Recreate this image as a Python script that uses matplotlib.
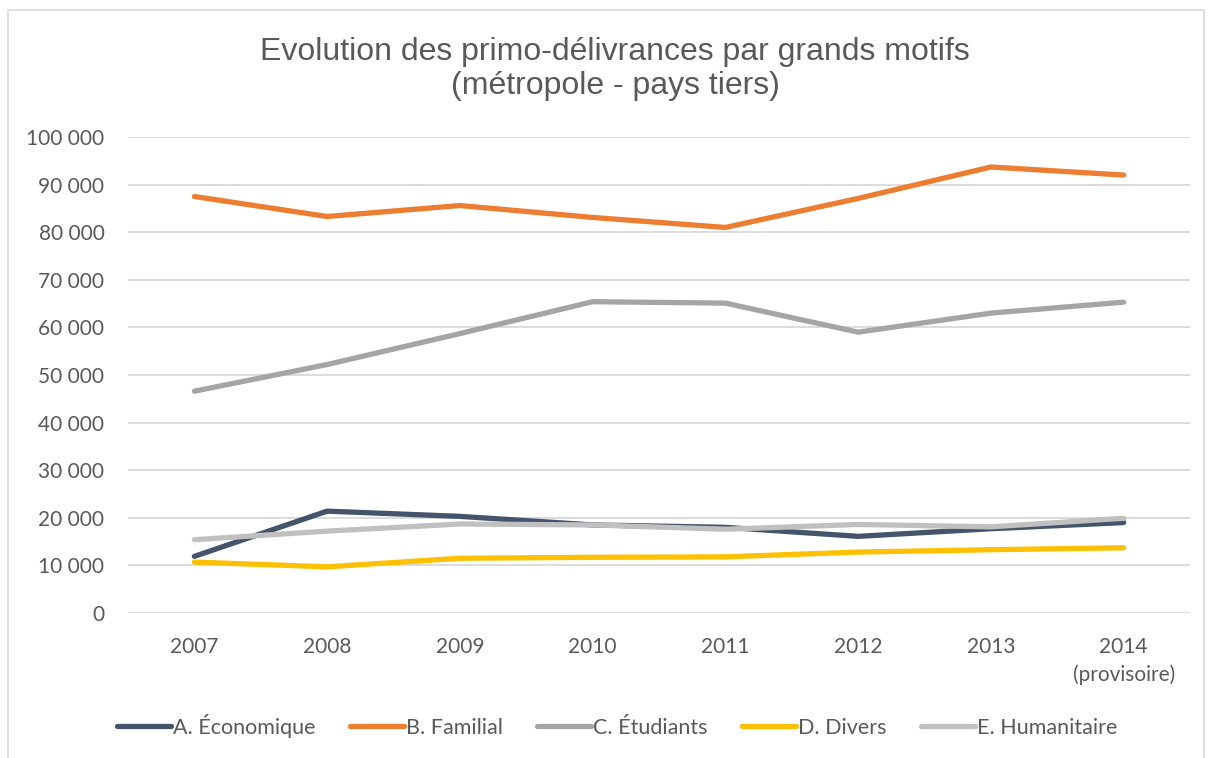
import matplotlib
matplotlib.use("Agg")
import matplotlib.pyplot as plt
from matplotlib.patches import Rectangle
from matplotlib.ticker import FuncFormatter

years = ["2007", "2008", "2009", "2010", "2011", "2012", "2013", "2014\n(provisoire)"]
series_names = ["A. Économique", "B. Familial", "C. Étudiants", "D. Divers", "E. Humanitaire"]
economique = [11900, 21400, 20300, 18500, 18000, 16100, 17700, 19000]
familial = [87500, 83300, 85600, 83100, 81000, 87100, 93700, 92000]
etudiants = [46600, 52200, 58700, 65400, 65100, 59000, 63000, 65300]
divers = [10700, 9700, 11500, 11700, 11800, 12800, 13300, 13700]
humanitaire = [15400, 17200, 18700, 18500, 17600, 18600, 18100, 19900]
yticks = [0, 10000, 20000, 30000, 40000, 50000, 60000, 70000, 80000, 90000, 100000]

colors = ["#44546A", "#ED7D31", "#A5A5A5", "#FFC000", "#C0C0C0"]
values = [economique, familial, etudiants, divers, humanitaire]

W, H = 1208, 758
fig = plt.figure(figsize=(W / 100, H / 100), dpi=100)
fig.patch.set_facecolor("white")

# chart frame
fig.patches.append(Rectangle((8 / W, -0.01), (1204 - 8) / W, 1 - 10 / H + 0.01,
                             transform=fig.transFigure, fill=False,
                             edgecolor="#D9D9D9", linewidth=1.2))

left, right, top, bottom = 128, 1190, 137, 613
ax = fig.add_axes([left / W, 1 - bottom / H, (right - left) / W, (bottom - top) / H])

x = list(range(len(years)))
for name, vals, c in zip(series_names, values, colors):
    ax.plot(x, vals, color=c, linewidth=3.8, label=name, solid_capstyle="round",
            solid_joinstyle="round")

ax.set_xlim(-0.5, len(years) - 0.5)
ax.set_ylim(0, 100000)
ax.set_yticks(yticks)
ax.yaxis.set_major_formatter(FuncFormatter(lambda v, p: f"{int(v):,}".replace(",", " ")))
ax.set_xticks(x)
ax.set_xticklabels(years, linespacing=1.45)
ax.grid(axis="y", color="#D9D9D9", linewidth=1.3)
ax.set_axisbelow(True)
for s in ax.spines.values():
    s.set_visible(False)
ax.tick_params(axis="both", length=0, labelsize=15, labelcolor="#595959")
ax.tick_params(axis="y", pad=17)
ax.tick_params(axis="x", pad=17)
for lab in ax.get_xticklabels() + ax.get_yticklabels():
    lab.set_fontfamily("Lato")

fig.text(615 / W, 1 - 69 / H, "Evolution des primo-délivrances par grands motifs\n(métropole - pays tiers)",
         ha="center", va="center", fontsize=23, color="#595959",
         family="Liberation Sans", linespacing=1.2)

leg = fig.legend(loc="center", bbox_to_anchor=(617 / W, 1 - 726 / H), ncol=5,
                 frameon=False, prop={"family": "Lato", "size": 15.5},
                 handlelength=2.5, handletextpad=0.1, columnspacing=1.6)
for t in leg.get_texts():
    t.set_color("#595959")

fig.savefig("out.png", dpi=100, facecolor="white")
